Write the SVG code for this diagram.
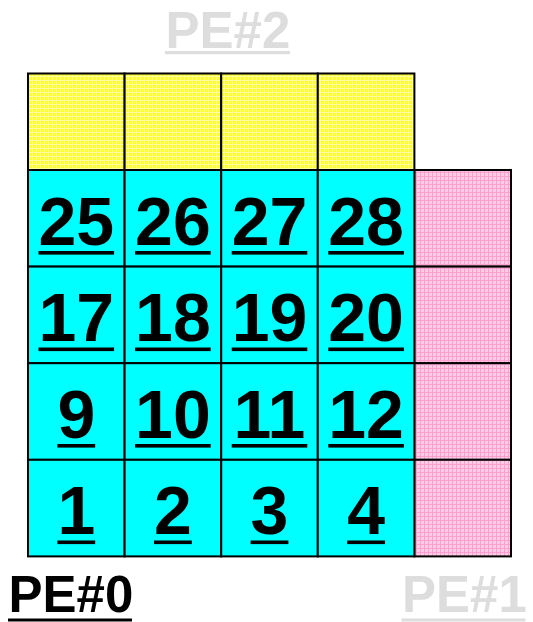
<svg xmlns="http://www.w3.org/2000/svg" width="533" height="622" viewBox="0 0 533 622">
<defs>
<pattern id="pY" width="4" height="4" patternUnits="userSpaceOnUse">
<rect width="4" height="4" fill="#ffff30"/>
<path d="M0 0.5H4M0.5 0V4" stroke="#ffffa0" stroke-width="1"/>
</pattern>
<pattern id="pP" width="4" height="4" patternUnits="userSpaceOnUse">
<rect width="4" height="4" fill="#ffcce6"/>
<path d="M0 0.5H4M0.5 0V4" stroke="#ff9fcf" stroke-width="1"/>
</pattern>
</defs>
<style>
.c{fill:#00ffff;stroke:#000;stroke-width:2}
.y{fill:url(#pY);stroke:#000;stroke-width:2}
.p{fill:url(#pP);stroke:#000;stroke-width:2}
.n{font-family:"Liberation Sans",Arial,sans-serif;font-weight:bold;font-size:68px;text-anchor:middle;fill:#000}
.pe{font-family:"Liberation Sans",Arial,sans-serif;font-weight:bold;font-size:51px}
.u2{fill:#000}
.u1{fill:#000}
</style>
<rect width="533" height="622" fill="#fff"/>
<g id="halo-top">
<rect class="y" x="28" y="73.5" width="96.6" height="96.5"/>
<rect class="y" x="124.6" y="73.5" width="96.6" height="96.5"/>
<rect class="y" x="221.2" y="73.5" width="96.6" height="96.5"/>
<rect class="y" x="317.8" y="73.5" width="96.6" height="96.5"/>
</g>
<g id="halo-right">
<rect class="p" x="414.4" y="170" width="96.6" height="96.6"/>
<rect class="p" x="414.4" y="266.6" width="96.6" height="96.6"/>
<rect class="p" x="414.4" y="363.2" width="96.6" height="96.6"/>
<rect class="p" x="414.4" y="459.8" width="96.6" height="96.6"/>
</g>
<g id="n25"><rect class="c" x="28" y="170" width="96.6" height="96.6"/><text class="n" x="76.3" y="244.5">25</text><rect class="u2" x="38.5" y="251" width="75.6" height="3.6"/></g>
<g id="n26"><rect class="c" x="124.6" y="170" width="96.6" height="96.6"/><text class="n" x="172.9" y="244.5">26</text><rect class="u2" x="135.1" y="251" width="75.6" height="3.6"/></g>
<g id="n27"><rect class="c" x="221.2" y="170" width="96.6" height="96.6"/><text class="n" x="269.5" y="244.5">27</text><rect class="u2" x="231.7" y="251" width="75.6" height="3.6"/></g>
<g id="n28"><rect class="c" x="317.8" y="170" width="96.6" height="96.6"/><text class="n" x="366.1" y="244.5">28</text><rect class="u2" x="328.3" y="251" width="75.6" height="3.6"/></g>
<g id="n17"><rect class="c" x="28" y="266.6" width="96.6" height="96.6"/><text class="n" x="76.3" y="341">17</text><rect class="u2" x="38.5" y="347.5" width="75.6" height="3.6"/></g>
<g id="n18"><rect class="c" x="124.6" y="266.6" width="96.6" height="96.6"/><text class="n" x="172.9" y="341">18</text><rect class="u2" x="135.1" y="347.5" width="75.6" height="3.6"/></g>
<g id="n19"><rect class="c" x="221.2" y="266.6" width="96.6" height="96.6"/><text class="n" x="269.5" y="341">19</text><rect class="u2" x="231.7" y="347.5" width="75.6" height="3.6"/></g>
<g id="n20"><rect class="c" x="317.8" y="266.6" width="96.6" height="96.6"/><text class="n" x="366.1" y="341">20</text><rect class="u2" x="328.3" y="347.5" width="75.6" height="3.6"/></g>
<g id="n9"><rect class="c" x="28" y="363.2" width="96.6" height="96.6"/><text class="n" x="76.3" y="437.5">9</text><rect class="u1" x="57.4" y="444" width="37.8" height="3.6"/></g>
<g id="n10"><rect class="c" x="124.6" y="363.2" width="96.6" height="96.6"/><text class="n" x="172.9" y="437.5">10</text><rect class="u2" x="135.1" y="444" width="75.6" height="3.6"/></g>
<g id="n11"><rect class="c" x="221.2" y="363.2" width="96.6" height="96.6"/><text class="n" x="269.5" y="437.5">11</text><rect class="u2" x="231.7" y="444" width="75.6" height="3.6"/></g>
<g id="n12"><rect class="c" x="317.8" y="363.2" width="96.6" height="96.6"/><text class="n" x="366.1" y="437.5">12</text><rect class="u2" x="328.3" y="444" width="75.6" height="3.6"/></g>
<g id="n1"><rect class="c" x="28" y="459.8" width="96.6" height="96.6"/><text class="n" x="76.3" y="534">1</text><rect class="u1" x="57.4" y="540.5" width="37.8" height="3.6"/></g>
<g id="n2"><rect class="c" x="124.6" y="459.8" width="96.6" height="96.6"/><text class="n" x="172.9" y="534">2</text><rect class="u1" x="154" y="540.5" width="37.8" height="3.6"/></g>
<g id="n3"><rect class="c" x="221.2" y="459.8" width="96.6" height="96.6"/><text class="n" x="269.5" y="534">3</text><rect class="u1" x="250.6" y="540.5" width="37.8" height="3.6"/></g>
<g id="n4"><rect class="c" x="317.8" y="459.8" width="96.6" height="96.6"/><text class="n" x="366.1" y="534">4</text><rect class="u1" x="347.2" y="540.5" width="37.8" height="3.6"/></g>
<g id="connectors"/>
<g id="labels">
<text class="pe" x="165.5" y="48" fill="#dddddd">PE#2</text>
<rect x="165" y="51" width="125" height="3.2" fill="#dddddd"/>
<text class="pe" x="8.5" y="611.5" fill="#000000">PE#0</text>
<rect x="8" y="618.5" width="124" height="3" fill="#000000"/>
<text class="pe" x="402" y="611.5" fill="#dddddd">PE#1</text>
<rect x="401.5" y="618.5" width="124" height="3" fill="#dddddd"/>
</g>
</svg>
